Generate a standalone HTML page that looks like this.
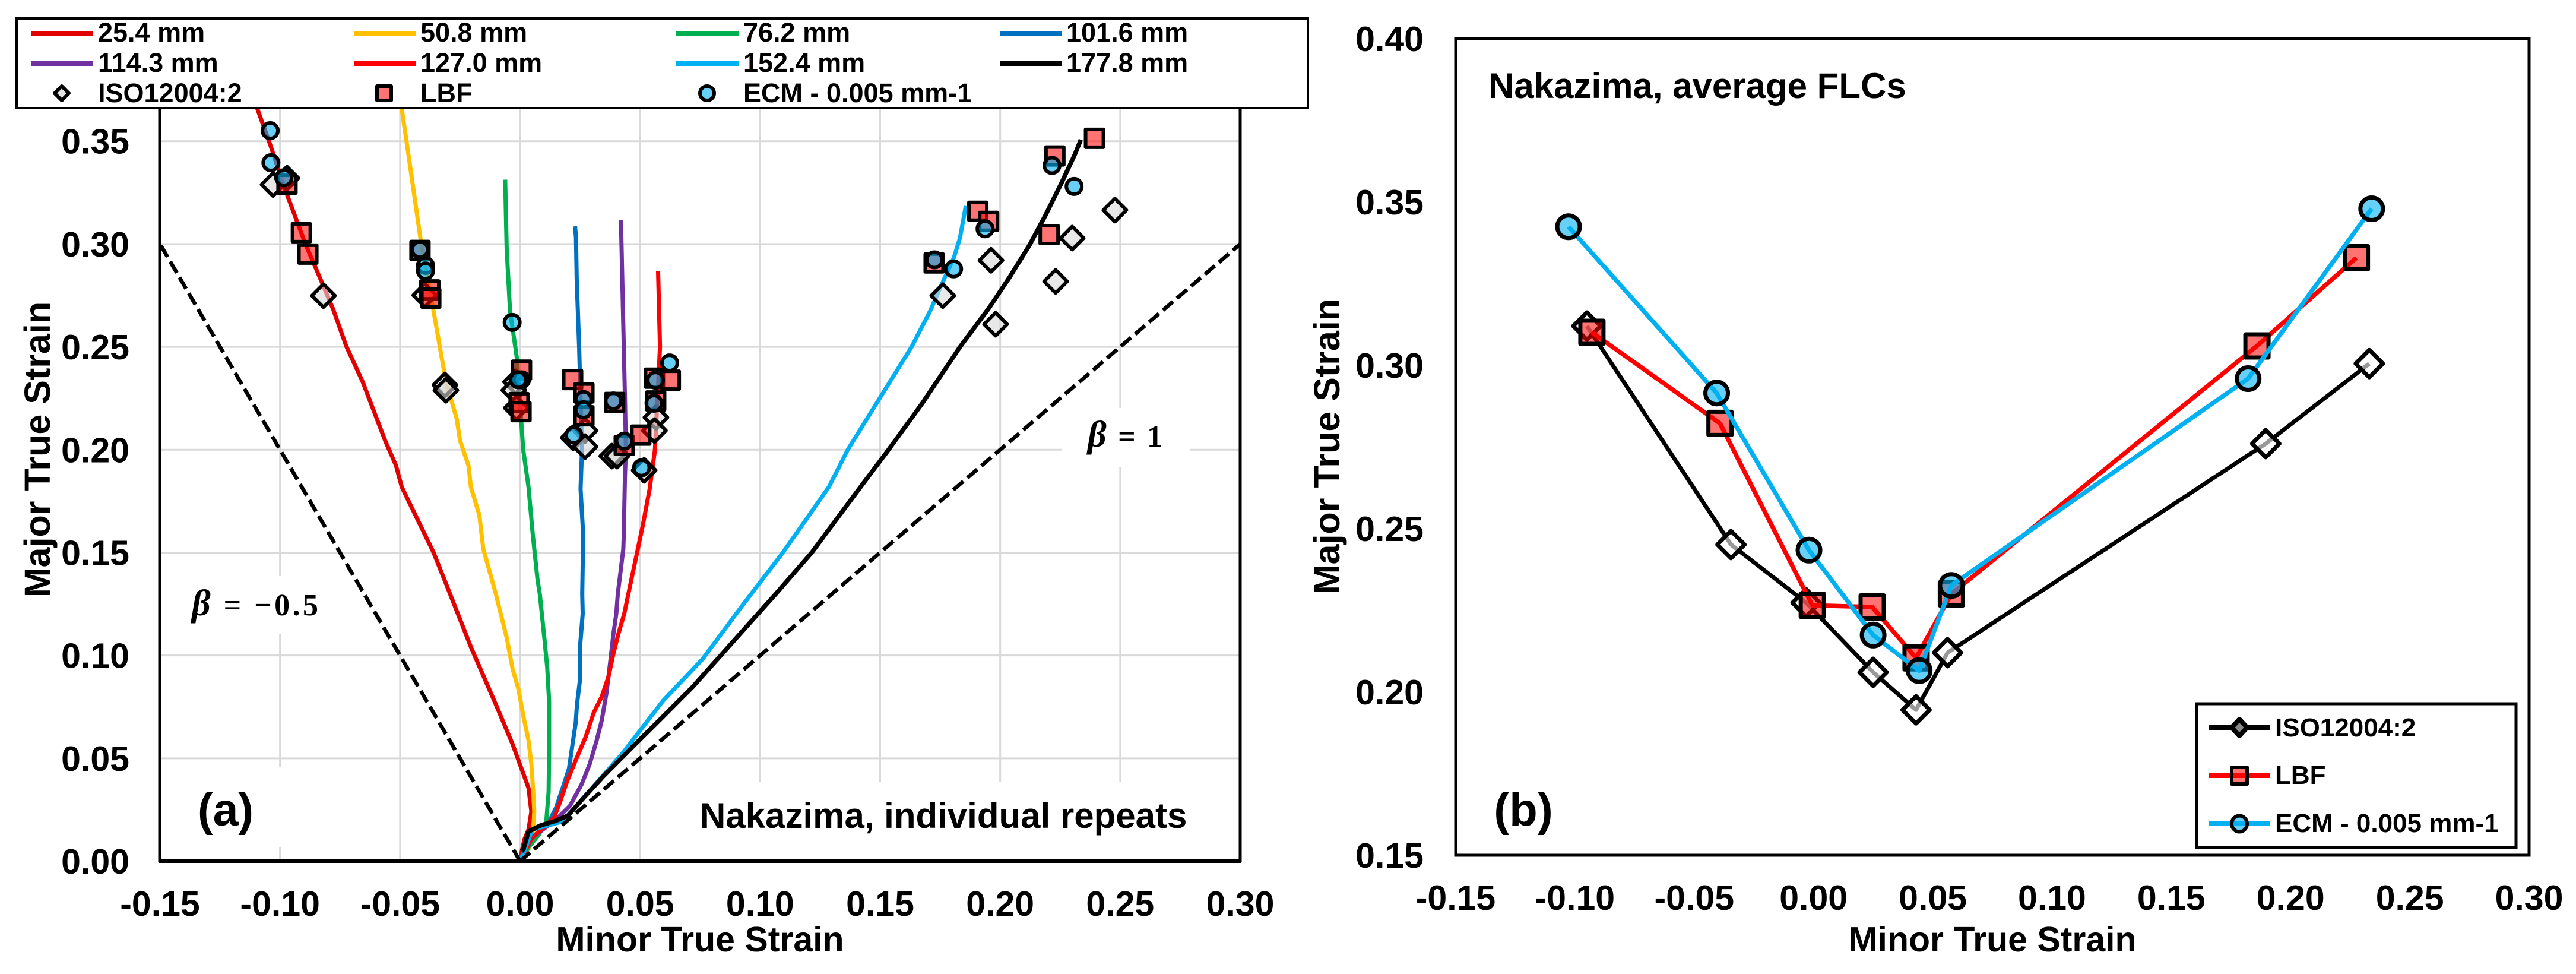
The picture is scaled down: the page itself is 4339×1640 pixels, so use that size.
<!DOCTYPE html>
<html lang="en">
<head>
<meta charset="utf-8">
<title>Nakazima forming limit curves</title>
<style>
html,body{margin:0;padding:0;background:#fff;}
svg{display:block;}
text{font-family:"Liberation Sans",Arial,sans-serif;font-weight:bold;fill:#000;}
.serif{font-family:"Liberation Serif",serif;}
</style>
</head>
<body>
<svg id="figure" xmlns="http://www.w3.org/2000/svg" width="4339" height="1640" viewBox="0 0 4339 1640">
  <rect x="0" y="0" width="4339" height="1640" fill="#fff"/>

  <!-- PANEL A -->
  <g id="panel-a">
    <g id="grid-a"></g>
    <rect x="300" y="970" width="260" height="98" fill="#fff"/>
    <rect x="300" y="1291" width="340" height="136" fill="#fff"/>
    <rect x="1150" y="1317" width="880" height="130" fill="#fff"/>
    <rect x="1788" y="687" width="216" height="99" fill="#fff"/>
    <line x1="269" y1="182" x2="269" y2="1452" stroke="#000" stroke-width="5"/>
    <line x1="2089" y1="182" x2="2089" y2="1452" stroke="#000" stroke-width="5"/>
    <line x1="267" y1="1450" x2="2091" y2="1450" stroke="#000" stroke-width="6"/>
    <g id="curves-a"></g>
    <g id="markers-a"></g>
    <g id="ticks-a"></g>

    <text class="serif" x="323" y="1036" font-size="52" textLength="213" lengthAdjust="spacing"><tspan font-style="italic" font-size="62">β</tspan> = −0.5</text>
    <text class="serif" x="1832" y="752" font-size="52" textLength="126" lengthAdjust="spacing"><tspan font-style="italic" font-size="62">β</tspan> = 1</text>
    <text x="380" y="1390" font-size="77" text-anchor="middle">(a)</text>
    <text x="1179" y="1394" font-size="60">Nakazima, individual repeats</text>
    <text x="1179" y="1602" font-size="59" text-anchor="middle">Minor True Strain</text>
    <text x="84" y="757" font-size="61" text-anchor="middle" transform="rotate(-90 84 757)">Major True Strain</text>

    <g id="legend-a">
      <rect x="28" y="31" width="2175" height="151" fill="#fff" stroke="#000" stroke-width="4"/>
      <g><line x1="52" y1="56" x2="157" y2="56" stroke="#e00000" stroke-width="8"/><text x="165" y="70" font-size="45">25.4 mm</text></g>
      <g><line x1="596" y1="56" x2="701" y2="56" stroke="#ffc000" stroke-width="8"/><text x="708" y="70" font-size="45">50.8 mm</text></g>
      <g><line x1="1139" y1="56" x2="1245" y2="56" stroke="#00b050" stroke-width="8"/><text x="1252" y="70" font-size="45">76.2 mm</text></g>
      <g><line x1="1684" y1="56" x2="1789" y2="56" stroke="#0070c0" stroke-width="8"/><text x="1796" y="70" font-size="45">101.6 mm</text></g>
      <g><line x1="52" y1="107" x2="157" y2="107" stroke="#7030a0" stroke-width="8"/><text x="165" y="121" font-size="45">114.3 mm</text></g>
      <g><line x1="596" y1="107" x2="701" y2="107" stroke="#ff0000" stroke-width="8"/><text x="708" y="121" font-size="45">127.0 mm</text></g>
      <g><line x1="1139" y1="107" x2="1245" y2="107" stroke="#00b0f0" stroke-width="8"/><text x="1252" y="121" font-size="45">152.4 mm</text></g>
      <g><line x1="1684" y1="107" x2="1789" y2="107" stroke="#000" stroke-width="8"/><text x="1796" y="121" font-size="45">177.8 mm</text></g>
      <g><path d="M104 145 L116 157 L104 169 L92 157 Z" fill="#d9d9d9" fill-opacity=".7" stroke="#000" stroke-width="6" stroke-linejoin="round"/><text x="165" y="172" font-size="45">ISO12004:2</text></g>
      <g><rect x="635" y="145" width="24" height="24" fill="#ff0000" fill-opacity=".55" stroke="#000" stroke-width="6" stroke-linejoin="round"/><text x="708" y="172" font-size="45">LBF</text></g>
      <g><circle cx="1191" cy="157" r="12" fill="#00b0f0" fill-opacity=".6" stroke="#000" stroke-width="6"/><text x="1252" y="172" font-size="45">ECM - 0.005 mm-1</text></g>
    </g>
  </g>

  <!-- PANEL B -->
  <g id="panel-b">
    <rect x="2452" y="65" width="1808" height="1375" fill="#fff" stroke="#000" stroke-width="5"/>
    <g id="series-b"></g>
    <g id="ticks-b"></g>
    <text x="2507" y="165" font-size="60">Nakazima, average FLCs</text>
    <text x="2566" y="1390" font-size="78" text-anchor="middle">(b)</text>
    <text x="3356" y="1602" font-size="59" text-anchor="middle">Minor True Strain</text>
    <text x="2256" y="752" font-size="61" text-anchor="middle" transform="rotate(-90 2256 752)">Major True Strain</text>
    <g id="legend-b">
      <rect x="3700" y="1185" width="538" height="242" fill="#fff" stroke="#000" stroke-width="5"/>
      <g><line x1="3720" y1="1225" x2="3824" y2="1225" stroke="#000" stroke-width="8"/><path d="M3772 1211 L3785 1225 L3772 1239 L3759 1225 Z" fill="#888" stroke="#000" stroke-width="8" stroke-linejoin="round"/><text x="3832" y="1240" font-size="44">ISO12004:2</text></g>
      <g><line x1="3720" y1="1306" x2="3824" y2="1306" stroke="#f00" stroke-width="8"/><rect x="3759" y="1292" width="26" height="28" fill="#ff0000" fill-opacity=".55" stroke="#000" stroke-width="6" stroke-linejoin="round"/><text x="3832" y="1320" font-size="44">LBF</text></g>
      <g><line x1="3720" y1="1387" x2="3824" y2="1387" stroke="#00b0f0" stroke-width="8"/><ellipse cx="3772" cy="1387" rx="13" ry="13.5" fill="#00b0f0" fill-opacity=".6" stroke="#000" stroke-width="6"/><text x="3832" y="1401" font-size="44">ECM - 0.005 mm-1</text></g>
    </g>
  </g>
</svg>

<script>
// ---------- tick labels ----------
const xTickLabels = ['-0.15','-0.10','-0.05','0.00','0.05','0.10','0.15','0.20','0.25','0.30'];
const yTickLabelsA = ['0.00','0.05','0.10','0.15','0.20','0.25','0.30','0.35','0.40'];
const yTickLabelsB = ['0.15','0.20','0.25','0.30','0.35','0.40'];

// ---------- panel (a): curves (minor strain, major strain) ----------
const curve254X = [0,.0018,.0035,.0047,.0035,-.0031,-.0097,-.0204,-.0309,-.0361,-.043,-.0493,-.0517,-.0562,-.0656,-.0724,-.0777,-.0828,-.0894,-.0975,-.1046,-.1093,-.115];
const curve254Y = [.001,.0106,.0154,.0241,.0356,.0568,.0751,.1039,.135,.1502,.1668,.1819,.1923,.2044,.2331,.2503,.2678,.282,.30,.3253,.35,.3652,.385];
const curve508X = [0,.0035,.0055,.0059,.0055,.0047,.0035,.0014,-.0007,-.0031,-.0056,-.0101,-.0153,-.017,-.0205,-.0215,-.025,-.0264,-.0309,-.0361,-.0413,-.0465,-.0493,-.052];
const curve508Y = [.0005,.0058,.0154,.0241,.0337,.0471,.0587,.0702,.0837,.0933,.1087,.1299,.1517,.1683,.1819,.1923,.2044,.215,.2331,.2678,.3011,.3434,.3657,.39];
const curve762X = [0,.0035,.0076,.0109,.0119,.0121,.0121,.0113,.0101,.0082,.0073,.0053,.0035,.0013,-.0014,-.0042,-.0056,-.0062];
const curve762Y = [.0005,.0067,.0125,.0192,.0337,.0529,.0779,.0943,.1087,.1299,.1366,.1588,.1819,.20,.2452,.2678,.298,.3313];
const curve1016X = [0,.0051,.0117,.015,.0183,.0204,.0216,.0232,.0237,.0249,.0251,.0261,.0259,.0263,.0252,.0258,.0246,.0236,.0233,.0229];
const curve1016Y = [.0005,.0115,.0183,.026,.0375,.0452,.0548,.0674,.0761,.0876,.1059,.1203,.1299,.1588,.181,.20,.25,.2829,.3031,.3086];
const curve1143X = [0,.0051,.015,.0208,.0257,.029,.0319,.034,.036,.0377,.0389,.0401,.0407,.042,.043,.0432,.0437,.0441,.0437,.0432,.0422,.042];
const curve1143Y = [.0005,.0115,.0202,.0269,.0375,.0472,.0587,.0683,.0818,.0982,.1107,.1203,.1299,.142,.1517,.1588,.1876,.20,.225,.25,.3031,.3116];
const curve1270X = [0,.0051,.0142,.0167,.0195,.0232,.0274,.0307,.034,.0368,.0389,.041,.0434,.0451,.0512,.054,.0562,.0583,.0575];
const curve1270Y = [.0005,.0115,.0212,.0289,.0385,.0491,.0606,.0722,.0799,.0895,.101,.1107,.1203,.1299,.1636,.181,.20,.25,.2867];
const curve1524X = [0,.0018,.0051,.0175,.0265,.043,.0595,.076,.0925,.1095,.1287,.1365,.1498,.1631,.1709,.1759,.1808,.1833,.1857];
const curve1524Y = [.0005,.0048,.0154,.0192,.0308,.0529,.0779,.0982,.1241,.15,.182,.20,.225,.25,.2676,.281,.2936,.3031,.3185];
const curve1778X = [.0006,.0014,.0035,.0084,.015,.0199,.0265,.0348,.0471,.0595,.0719,.0925,.1066,.1215,.1419,.1535,.1675,.1833,.1956,.2039,.2121,.2187,.2253,.2311,.2336];
const curve1778Y = [.0048,.0058,.0144,.0173,.0197,.0221,.0308,.0414,.0558,.0702,.0847,.1116,.13,.15,.182,.20,.2225,.25,.2693,.2838,.2992,.3136,.3291,.3435,.3507];
const betaMinusX = [0,-.15];
const betaMinusY = [0,.30];
const betaOneX = [0,.30];
const betaOneY = [0,.30];

// ---------- panel (a): individual repeats ----------
const isoRepeatX = [-.1029,-.0971,-.0819,-.0397,-.0313,-.0309,-.0019,-.0026,-.0016,.0271,.0221,.0271,.0382,.0404,.0566,.056,.0517,.1761,.1962,.1981,.2231,.23,.2478];
const isoRepeatY = [.3289,.332,.2749,.2751,.2315,.2289,.233,.2289,.2203,.2093,.2058,.2015,.1969,.1969,.2157,.2093,.19,.2749,.2921,.261,.2818,.3029,.3165];
const lbfRepeatX = [-.0971,-.0911,-.0884,-.0417,-.0376,-.0372,.0006,-.0004,.0004,.0219,.0266,.0266,.0394,.0434,.0503,.056,.0626,.0565,.1725,.1907,.1952,.2204,.2228,.2393];
const lbfRepeatY = [.3291,.3055,.2951,.2969,.2777,.2737,.2387,.2229,.2185,.2341,.2276,.2165,.223,.2021,.2071,.2348,.2338,.2237,.2908,.3159,.311,.3046,.3428,.3514];
const ecmRepeatX = [-.1041,-.1038,-.0984,-.0417,-.0394,-.0394,-.0033,.0006,-.0008,.0264,.0264,.0224,.0434,.0506,.0564,.0558,.0623,.0389,.1726,.1806,.1937,.2216,.2308];
const ecmRepeatY = [.3551,.3395,.3322,.2973,.2896,.2869,.2619,.234,.234,.2244,.2194,.2071,.2042,.1912,.2338,.2226,.2422,.2237,.2923,.2879,.3074,.3382,.328];

// ---------- panel (b): average FLCs ----------
const isoAvgX = [-.095,-.0346,-.0031,.025,.043,.0562,.1896,.233];
const isoAvgY = [.312,.2451,.2273,.206,.1945,.212,.276,.3005];
const lbfAvgX = [-.0929,-.0392,-.0005,.0246,.043,.0578,.1859,.2276];
const lbfAvgY = [.3101,.2822,.2265,.226,.2104,.23,.3059,.3329];
const ecmAvgX = [-.1027,-.0406,-.0019,.025,.0443,.0578,.1822,.234];
const ecmAvgY = [.3424,.2915,.2434,.2174,.2065,.2326,.2959,.3479];

// ---------- axis functions ----------
function linear(d0, d1, r0, r1) {
  return function (v) { return r0 + (v - d0) * (r1 - r0) / (d1 - d0); };
}
const xA = linear(-0.15, 0.30, 269.5, 2089);
const yA = linear(0, 0.40, 1450, 64.5);
const xB = linear(-0.15, 0.30, 2452, 4260);
const yB = linear(0.15, 0.40, 1440, 65);

// ---------- drawing helpers ----------
const NS = 'http://www.w3.org/2000/svg';
function make(tag, parent, attrs) {
  const node = document.createElementNS(NS, tag);
  for (const key in attrs) { node.setAttribute(key, attrs[key]); }
  parent.appendChild(node);
  return node;
}
function pointsOf(xs, ys, sx, sy) {
  return xs.map(function (v, i) { return sx(v).toFixed(1) + ',' + sy(ys[i]).toFixed(1); }).join(' ');
}
function drawLine(parent, xs, ys, sx, sy, color, width) {
  return make('polyline', parent, {
    points: pointsOf(xs, ys, sx, sy), fill: 'none', stroke: color,
    'stroke-width': width, 'stroke-linejoin': 'round'
  });
}
function square(parent, cx, cy, outer, sw) {
  const s = outer - sw;
  return make('rect', parent, {
    x: cx - s / 2, y: cy - s / 2, width: s, height: s, fill: '#ff0000', 'fill-opacity': .55,
    stroke: '#000', 'stroke-width': sw, 'stroke-linejoin': 'round'
  });
}
function circle(parent, cx, cy, outer, sw) {
  return make('circle', parent, {
    cx: cx, cy: cy, r: (outer - sw) / 2, fill: '#00b0f0', 'fill-opacity': .6,
    stroke: '#000', 'stroke-width': sw
  });
}
function diamond(parent, cx, cy, outer, sw, tint) {
  const h = (outer - sw) / 2;
  return make('path', parent, {
    d: 'M' + cx + ' ' + (cy - h) + ' L' + (cx + h) + ' ' + cy + ' L' + cx + ' ' + (cy + h) + ' L' + (cx - h) + ' ' + cy + ' Z',
    fill: tint, 'fill-opacity': .6, stroke: '#000', 'stroke-width': sw, 'stroke-linejoin': 'round'
  });
}
function tickText(parent, x, y, label, anchor) {
  const node = make('text', parent, { x: x, y: y, 'font-size': 59, 'text-anchor': anchor });
  node.textContent = label;
  return node;
}

// ---------- panel (a) gridlines ----------
const gridA = document.getElementById('grid-a');
xTickLabels.slice(1, -1).forEach(function (label) {
  const px = xA(parseFloat(label));
  const el = make('line', gridA, { x1: px, y1: 182, x2: px, y2: 1450, stroke: '#d9d9d9', 'stroke-width': 3 });
  
  
});
yTickLabelsA.slice(1, -1).forEach(function (label) {
  const py = yA(parseFloat(label));
  const el = make('line', gridA, { x1: 269, y1: py, x2: 2089, y2: py, stroke: '#d9d9d9', 'stroke-width': 3 });
  
  
});

// ---------- panel (a) curves ----------
const curvesA = document.getElementById('curves-a');
const line254 = drawLine(curvesA, curve254X, curve254Y, xA, yA, '#e00000', 7);


const line508 = drawLine(curvesA, curve508X, curve508Y, xA, yA, '#ffc000', 7);


const line762 = drawLine(curvesA, curve762X, curve762Y, xA, yA, '#00b050', 7);


const line1016 = drawLine(curvesA, curve1016X, curve1016Y, xA, yA, '#0070c0', 7);


const line1143 = drawLine(curvesA, curve1143X, curve1143Y, xA, yA, '#7030a0', 7);


const line1270 = drawLine(curvesA, curve1270X, curve1270Y, xA, yA, '#ff0000', 7);


const line1524 = drawLine(curvesA, curve1524X, curve1524Y, xA, yA, '#00b0f0', 7);


const line1778 = drawLine(curvesA, curve1778X, curve1778Y, xA, yA, '#000000', 7.5);


const lineBetaMinus = drawLine(curvesA, betaMinusX, betaMinusY, xA, yA, '#000000', 6.5);
lineBetaMinus.setAttribute('stroke-dasharray', '22 9');


const lineBetaOne = drawLine(curvesA, betaOneX, betaOneY, xA, yA, '#000000', 6.5);
lineBetaOne.setAttribute('stroke-dasharray', '22 9');



// ---------- panel (a) markers ----------
const markersA = document.getElementById('markers-a');
isoRepeatX.forEach(function (v, i) {
  const el = diamond(markersA, xA(v), yA(isoRepeatY[i]), 45, 6, '#d9d9d9');
  
  
});
lbfRepeatX.forEach(function (v, i) {
  const el = square(markersA, xA(v), yA(lbfRepeatY[i]), 36, 6);
  
  
});
ecmRepeatX.forEach(function (v, i) {
  const el = circle(markersA, xA(v), yA(ecmRepeatY[i]), 32, 6);
  
  
});

// ---------- panel (a) tick labels ----------
const ticksA = document.getElementById('ticks-a');
xTickLabels.forEach(function (label) {
  const el = tickText(ticksA, xA(parseFloat(label)), 1542, label, 'middle');
  
  
});
yTickLabelsA.forEach(function (label) {
  const el = tickText(ticksA, 218, yA(parseFloat(label)) + 21, label, 'end');
  
  
});

// ---------- panel (b) series ----------
const seriesB = document.getElementById('series-b');
const isoLine = drawLine(seriesB, isoAvgX, isoAvgY, xB, yB, '#000000', 7);


isoAvgX.forEach(function (v, i) {
  const el = diamond(seriesB, xB(v), yB(isoAvgY[i]), 53, 7, '#ffffff');
  
  
});
const lbfLine = drawLine(seriesB, lbfAvgX, lbfAvgY, xB, yB, '#ff0000', 7.5);


lbfAvgX.forEach(function (v, i) {
  const el = square(seriesB, xB(v), yB(lbfAvgY[i]), 46, 7);
  
  
});
const ecmLine = drawLine(seriesB, ecmAvgX, ecmAvgY, xB, yB, '#00b0f0', 7.5);


ecmAvgX.forEach(function (v, i) {
  const el = circle(seriesB, xB(v), yB(ecmAvgY[i]), 45, 7);
  
  
});

// ---------- panel (b) tick labels ----------
const ticksB = document.getElementById('ticks-b');
xTickLabels.forEach(function (label) {
  const el = tickText(ticksB, xB(parseFloat(label)), 1532, label, 'middle');
  
  
});
yTickLabelsB.forEach(function (label) {
  const el = tickText(ticksB, 2398, yB(parseFloat(label)) + 21, label, 'end');
  
  
});
</script>
</body>
</html>
